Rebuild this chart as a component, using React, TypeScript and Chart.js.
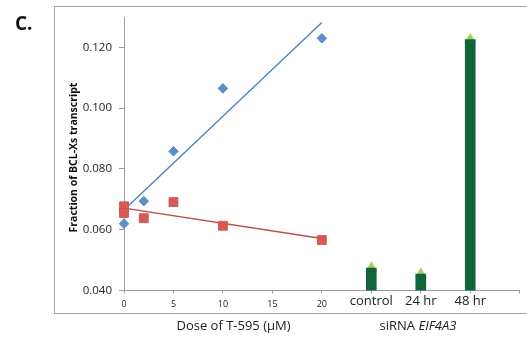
import React, { useEffect, useRef } from 'react';
import { Chart, registerables } from 'chart.js';

Chart.register(...registerables);

// T-595 dose response (series 1, blue diamonds)
const doseBlue = [0, 2, 5, 10, 20];
const fractionBlue = [0.062, 0.0694, 0.0858, 0.1065, 0.123];

// T-595 dose response (series 2, red squares)
const doseRed = [0, 0, 2, 5, 10, 20];
const fractionRed = [0.0677, 0.0655, 0.0638, 0.0691, 0.0613, 0.0566];

// siRNA EIF4A3 knockdown bars, placed after the dose range on the shared x axis
const sirnaLabels = ['control', '24 hr', '48 hr'];
const sirnaPositions = [25, 30, 35];
const sirnaFraction = [0.0474, 0.0454, 0.1226];

// axis ticks
const doseTickValues = [0, 5, 10, 15, 20];
const xTickValues = [...doseTickValues, ...sirnaPositions, 40];
const xTickLabels = [...doseTickValues.map(String), ...sirnaLabels, ''];
const yTickValues = [0.04, 0.06, 0.08, 0.1, 0.12];

const FONT = "'Open Sans', 'DejaVu Sans', sans-serif";

// least-squares linear trend line
function linearFit(xs: number[], ys: number[]) {
  const n = xs.length;
  const mx = xs.reduce((a, b) => a + b, 0) / n;
  const my = ys.reduce((a, b) => a + b, 0) / n;
  let sxy = 0;
  let sxx = 0;
  for (let i = 0; i < n; i++) {
    sxy += (xs[i] - mx) * (ys[i] - my);
    sxx += (xs[i] - mx) * (xs[i] - mx);
  }
  const slope = sxy / sxx;
  const intercept = my - slope * mx;
  const x0 = Math.min(...xs);
  const x1 = Math.max(...xs);
  return [
    { x: x0, y: intercept + slope * x0 },
    { x: x1, y: intercept + slope * x1 },
  ];
}

const decorPlugin = {
  id: 'decor',
  beforeDraw(chart: any) {
    const ctx = chart.ctx;
    ctx.save();
    ctx.fillStyle = '#a6a6a6';
    // outer panel frame: top, left and bottom edges
    ctx.fillRect(54, 6, 480, 1);
    ctx.fillRect(54, 6, 1, 308);
    ctx.fillRect(54, 313, 480, 1);
    ctx.restore();
  },
  afterDraw(chart: any) {
    const ctx = chart.ctx;
    ctx.save();
    ctx.fillStyle = '#111';

    // panel letter
    ctx.font = `bold 19px ${FONT}`;
    ctx.textAlign = 'left';
    ctx.textBaseline = 'alphabetic';
    ctx.fillText('C.', 15, 30);

    // y axis title
    ctx.save();
    ctx.translate(74, 157.5);
    ctx.rotate(-Math.PI / 2);
    ctx.font = `bold 10.5px ${FONT}`;
    ctx.textAlign = 'center';
    ctx.textBaseline = 'middle';
    ctx.fillText('Fraction of BCL-Xs transcript', 0, 0);
    ctx.restore();

    // x axis titles
    ctx.fillStyle = '#222';
    ctx.font = `13px ${FONT}`;
    ctx.textAlign = 'center';
    ctx.textBaseline = 'middle';
    ctx.fillText('Dose of T-595 (\u00b5M)', 233.5, 326.5);

    const a = 'siRNA ';
    const b = 'EIF4A3';
    ctx.font = `13px ${FONT}`;
    const wa = ctx.measureText(a).width;
    ctx.font = `italic 13px ${FONT}`;
    const wb = ctx.measureText(b).width;
    const start = 418 - (wa + wb) / 2;
    ctx.textAlign = 'left';
    ctx.font = `13px ${FONT}`;
    ctx.fillText(a, start, 326.5);
    ctx.font = `italic 13px ${FONT}`;
    ctx.fillText(b, start + wa, 326.5);
    ctx.restore();
  },
};

export default function App() {
  const canvasRef = useRef<HTMLCanvasElement | null>(null);

  useEffect(() => {
    const canvas = canvasRef.current;
    if (!canvas) return;

    const blueFit = linearFit(doseBlue, fractionBlue);
    const redFit = linearFit(doseRed, fractionRed);

    const chart = new Chart(canvas, {
      type: 'scatter',
      data: {
        datasets: [
          {
            type: 'scatter',
            data: doseBlue.map((x, i) => ({ x, y: fractionBlue[i] })),
            pointStyle: 'rectRot',
            pointRadius: 4.8,
            backgroundColor: '#5d8fd0',
            borderColor: '#4a7ebb',
            borderWidth: 0.8,
            showLine: false,
            clip: false,
            order: 1,
          } as any,
          {
            type: 'scatter',
            data: doseRed.map((x, i) => ({ x, y: fractionRed[i] })),
            pointStyle: 'rect',
            pointRadius: 6.3,
            backgroundColor: '#dc5855',
            borderColor: '#c0504d',
            borderWidth: 0.8,
            showLine: false,
            clip: false,
            order: 1,
          } as any,
          {
            type: 'line',
            data: blueFit,
            borderColor: '#4a7ebb',
            borderWidth: 1.3,
            pointRadius: 0,
            showLine: true,
            fill: false,
            clip: false,
            order: 2,
          } as any,
          {
            type: 'line',
            data: redFit,
            borderColor: '#be4b48',
            borderWidth: 1.3,
            pointRadius: 0,
            showLine: true,
            fill: false,
            clip: false,
            order: 2,
          } as any,
          {
            type: 'bar',
            data: sirnaPositions.map((x, i) => ({ x, y: sirnaFraction[i] })),
            backgroundColor: '#10663a',
            borderWidth: 0,
            barThickness: 10,
            order: 3,
          } as any,
          {
            type: 'scatter',
            data: sirnaPositions.map((x, i) => ({ x, y: sirnaFraction[i] })),
            pointStyle: 'triangle',
            pointRadius: 6.5,
            backgroundColor: '#a6cd5a',
            borderColor: '#c4df8c',
            borderWidth: 0.8,
            showLine: false,
            clip: false,
            order: 4,
          } as any,
        ],
      },
      options: {
        responsive: false,
        animation: false,
        devicePixelRatio: 1,
        layout: { padding: { left: 0, right: 7, top: 17, bottom: 0 } },
        plugins: {
          legend: { display: false },
          tooltip: { enabled: false },
        },
        scales: {
          x: {
            type: 'linear',
            min: 0,
            max: 40,
            offset: false,
            grid: {
              offset: false,
              drawOnChartArea: false,
              drawTicks: true,
              tickLength: 3,
              color: '#a0a0a0',
            },
            border: { color: '#a0a0a0', width: 1 },
            afterBuildTicks: (scale: any) => {
              scale.ticks = xTickValues.map((v) => ({ value: v }));
            },
            afterFit: (scale: any) => {
              scale.height = 46.5;
            },
            ticks: {
              autoSkip: false,
              maxRotation: 0,
              padding: 3,
              color: '#222',
              callback: (value: any) => {
                const i = xTickValues.indexOf(Number(value));
                return i >= 0 ? xTickLabels[i] : '';
              },
              font: (ctx: any) => {
                const v = ctx.tick ? ctx.tick.value : 0;
                return v > 20
                  ? { family: FONT, size: 13, lineHeight: 0.8 }
                  : { family: FONT, size: 9, lineHeight: 1.74 };
              },
            } as any,
          },
          y: {
            type: 'linear',
            min: 0.04,
            max: 0.13,
            grid: {
              drawOnChartArea: false,
              drawTicks: true,
              tickLength: 5,
              color: '#a0a0a0',
            },
            border: { color: '#a0a0a0', width: 1 },
            afterBuildTicks: (scale: any) => {
              scale.ticks = yTickValues.map((v) => ({ value: v }));
            },
            afterFit: (scale: any) => {
              scale.width = 124;
            },
            ticks: {
              padding: 7,
              color: '#222',
              font: { family: FONT, size: 11.5 },
              callback: (value: any) => Number(value).toFixed(3),
            },
          },
        },
      },
      plugins: [decorPlugin],
    });

    return () => chart.destroy();
  }, []);

  return (
    <div style={{ position: 'fixed', left: 0, top: 0, width: 527, height: 337, overflow: 'hidden', background: '#fff' }}>
      <canvas ref={canvasRef} width={527} height={337} style={{ display: 'block' }} />
    </div>
  );
}
